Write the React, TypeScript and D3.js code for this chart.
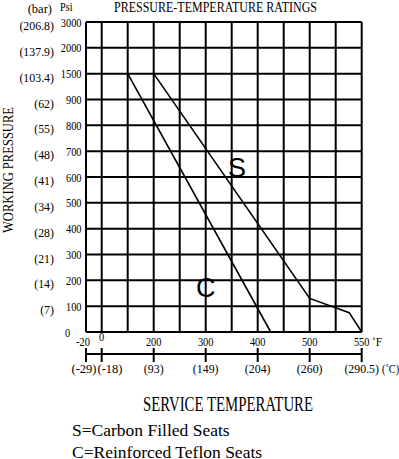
import React, { useEffect, useRef } from 'react';
import * as d3 from 'd3';

// pressure ticks (psi) and matching bar labels
const psiTicks = [0, 100, 200, 300, 400, 500, 600, 700, 800, 900, 1500, 2000, 3000];
const barLabels = ['', '(7)', '(14)', '(21)', '(28)', '(34)', '(41)', '(48)', '(55)', '(62)', '(103.4)', '(137.9)', '(206.8)'];

// temperature grid (F), labelled ticks and celsius equivalents
const gridTemps = [-20, 0, 100, 200, 250, 300, 350, 400, 450, 500, 525, 550];
const fTicks = [-20, 0, 200, 300, 400, 500, 550];
const cLabels = ['(-29)', '(-18)', '(93)', '(149)', '(204)', '(260)', '(290.5)'];

// rating curves
const seatS = [
  { t: 200, p: 1500 },
  { t: 500, p: 130 },
  { t: 538, p: 75 },
  { t: 550, p: 0 },
];
const seatC = [
  { t: 100, p: 1500 },
  { t: 425, p: 0 },
];

const legend = ['S=Carbon Filled Seats', 'C=Reinforced Teflon Seats'];

export default function App() {
  const svgRef = useRef<SVGSVGElement | null>(null);

  const width = 399;
  const height = 459;
  const left = 86;
  const top = 22;
  const bottom = 332;
  const rowStep = (bottom - top) / (psiTicks.length - 1);
  const colStep = 26;
  const firstCol = 15.7;

  const yScale = d3
    .scaleLinear()
    .domain(psiTicks)
    .range(psiTicks.map((_, i) => bottom - i * rowStep));

  const xScale = d3
    .scaleLinear()
    .domain(gridTemps)
    .range(gridTemps.map((_, i) => (i === 0 ? left : left + firstCol + (i - 1) * colStep)));

  const right = xScale(550);

  useEffect(() => {
    const svg = d3.select(svgRef.current);
    svg.selectAll('*').remove();

    const serif = "'Liberation Serif', 'Times New Roman', serif";

    const label = (
      str: string,
      x: number,
      y: number,
      size: number,
      anchor: string,
      sx = 1,
      family = serif
    ) =>
      svg
        .append('text')
        .attr('transform', `translate(${x},${y}) scale(${sx},1)`)
        .attr('text-anchor', anchor)
        .attr('font-family', family)
        .attr('font-size', size)
        .attr('fill', '#000')
        .text(str);

    // grid
    const grid = svg.append('g').attr('stroke', '#000').attr('stroke-width', 2);
    grid
      .selectAll('line.h')
      .data(psiTicks)
      .enter()
      .append('line')
      .attr('x1', left)
      .attr('x2', right)
      .attr('y1', (d) => yScale(d))
      .attr('y2', (d) => yScale(d));
    grid
      .selectAll('line.v')
      .data(gridTemps)
      .enter()
      .append('line')
      .attr('x1', (d) => xScale(d))
      .attr('x2', (d) => xScale(d))
      .attr('y1', top)
      .attr('y2', bottom);

    // curves
    const line = d3
      .line<{ t: number; p: number }>()
      .x((d) => xScale(d.t))
      .y((d) => yScale(d.p));
    [seatS, seatC].forEach((s) => {
      svg
        .append('path')
        .datum(s)
        .attr('d', line)
        .attr('fill', 'none')
        .attr('stroke', '#000')
        .attr('stroke-width', 1.6);
    });

    const sans = "'Liberation Sans', Arial, sans-serif";
    label('S', xScale(360), yScale(600), 27, 'middle', 1, sans);
    label('C', xScale(300), yScale(135), 27, 'middle', 1, sans);

    // y labels
    psiTicks.forEach((v, i) => {
      if (v === 0) label('0', 65, yScale(v) + 4.5, 12.5, 'start', 0.83);
      else label(String(v), 81.5, yScale(v) + 4.5, 12.5, 'end', 0.83);
      if (barLabels[i]) label(barLabels[i], 54, yScale(v) + 8, 12.5, 'end', 0.95);
    });
    label('Psi', 60, 10.7, 12.5, 'start', 0.82);
    label('(bar)', 52, 12.5, 12.5, 'end', 1);

    // title
    label('PRESSURE-TEMPERATURE RATINGS', 114, 11.7, 15, 'start')
      .attr('textLength', 203)
      .attr('lengthAdjust', 'spacingAndGlyphs');

    // fahrenheit labels
    fTicks.forEach((v) => {
      label(String(v), v === -20 ? xScale(v) - 3 : xScale(v), v === 0 ? 340.5 : 345.5, 12.5, 'middle', 0.83);
    });
    label('˚F', 372, 345.5, 12.5, 'start', 0.9);

    // celsius axis
    const cAxisY = 354;
    svg
      .append('line')
      .attr('x1', xScale(-20))
      .attr('x2', right)
      .attr('y1', cAxisY)
      .attr('y2', cAxisY)
      .attr('stroke', '#000')
      .attr('stroke-width', 2);
    svg
      .append('g')
      .selectAll('line')
      .data(fTicks)
      .enter()
      .append('line')
      .attr('x1', (d) => xScale(d))
      .attr('x2', (d) => xScale(d))
      .attr('y1', cAxisY - 6)
      .attr('y2', cAxisY + 8)
      .attr('stroke', '#000')
      .attr('stroke-width', 2);

    fTicks.forEach((v, i) => {
      if (i === 0) label(cLabels[i], 96.5, 373, 12.5, 'end', 1);
      else if (i === 1) label(cLabels[i], 97.5, 373, 12.5, 'start', 1);
      else label(cLabels[i], xScale(v), 373, 12.5, 'middle', 0.95);
    });
    label('(˚C)', 382, 373, 12.5, 'start', 0.82);

    // axis titles
    label('SERVICE TEMPERATURE', 228, 411, 20, 'middle')
      .attr('textLength', 170)
      .attr('lengthAdjust', 'spacingAndGlyphs');
    svg
      .append('text')
      .attr('transform', `translate(12.5,170) rotate(-90)`)
      .attr('text-anchor', 'middle')
      .attr('font-family', serif)
      .attr('font-size', 15)
      .attr('textLength', 126)
      .attr('lengthAdjust', 'spacingAndGlyphs')
      .text('WORKING PRESSURE');

    // legend
    legend.forEach((t, i) => {
      label(t, 72, 436 + i * 21.5, 17.5, 'start');
    });
  }, []);

  return (
    <div style={{ position: 'absolute', left: 0, top: 0 }}>
      <svg width={width} height={height} ref={svgRef} style={{ display: 'block', background: '#fff' }} />
    </div>
  );
}
